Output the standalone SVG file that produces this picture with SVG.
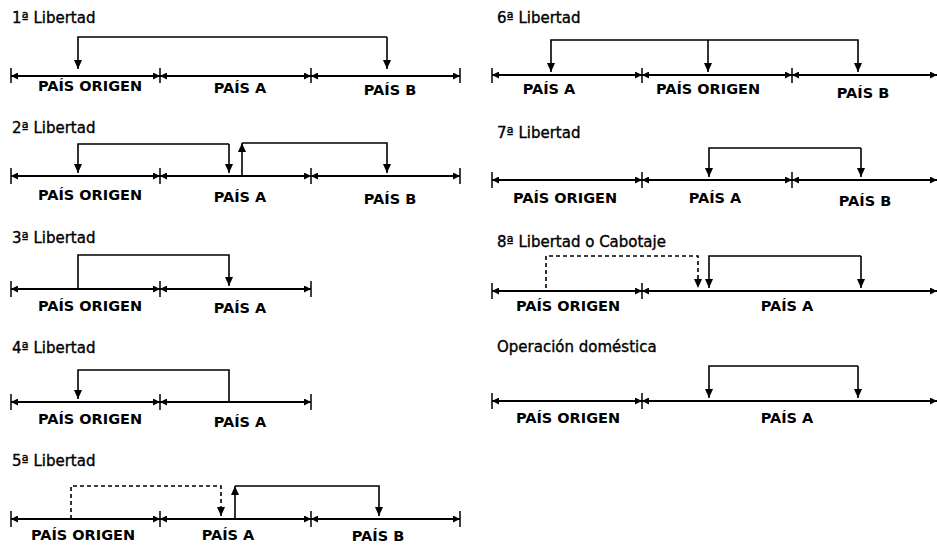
<svg xmlns="http://www.w3.org/2000/svg" width="937" height="545" viewBox="0 0 937 545">
<style>
.t{font-family:"DejaVu Sans",Verdana,sans-serif;font-size:15px;fill:#000;stroke:#000;stroke-width:0.35}
.l{font-family:"DejaVu Sans",Verdana,sans-serif;font-size:14.5px;font-weight:bold;fill:#000;text-anchor:middle}
.ax{stroke:#000;stroke-width:2;fill:none;marker-start:url(#dim);marker-end:url(#dim)}
.tk{stroke:#000;stroke-width:1.5}
.c{stroke:#000;stroke-width:1.6;fill:none}
.a{marker-end:url(#arr)}
.d{stroke-dasharray:4 3}
</style>
<defs>
<marker id="dim" markerUnits="userSpaceOnUse" viewBox="0 -3.5 7 7" refX="7" refY="0" markerWidth="7" markerHeight="7" orient="auto-start-reverse"><path d="M0,-3.5 L7,0 L0,3.5 z" fill="#000"/></marker>
<marker id="arr" markerUnits="userSpaceOnUse" viewBox="0 -4 9 8" refX="9" refY="0" markerWidth="9" markerHeight="8" orient="auto"><path d="M0,-4 L9,0 L0,4 z" fill="#000"/></marker>
</defs>

<g id="p1">
<text class="t" x="12" y="23">1ª Libertad</text>
<line class="tk" x1="11" y1="68" x2="11" y2="83"/><line class="tk" x1="160" y1="68" x2="160" y2="83"/><line class="tk" x1="311" y1="68" x2="311" y2="83"/><line class="tk" x1="460" y1="68" x2="460" y2="83"/>
<line class="ax" x1="11" y1="76" x2="160" y2="76"/><line class="ax" x1="160" y1="76" x2="311" y2="76"/><line class="ax" x1="311" y1="76" x2="460" y2="76"/>
<text class="l" x="90" y="91">PAÍS ORIGEN</text><text class="l" x="240" y="93">PAÍS A</text><text class="l" x="390" y="95">PAÍS B</text>
</g>
<g id="p2">
<text class="t" x="12" y="133">2ª Libertad</text>
<line class="tk" x1="11" y1="168" x2="11" y2="184"/><line class="tk" x1="160" y1="168" x2="160" y2="184"/><line class="tk" x1="311" y1="168" x2="311" y2="184"/><line class="tk" x1="460" y1="168" x2="460" y2="184"/>
<line class="ax" x1="11" y1="176" x2="160" y2="176"/><line class="ax" x1="160" y1="176" x2="311" y2="176"/><line class="ax" x1="311" y1="176" x2="460" y2="176"/>
<text class="l" x="90" y="200">PAÍS ORIGEN</text><text class="l" x="240" y="202">PAÍS A</text><text class="l" x="390" y="204">PAÍS B</text>
</g>
<g id="p3">
<text class="t" x="12" y="243">3ª Libertad</text>
<line class="tk" x1="11" y1="281" x2="11" y2="297"/><line class="tk" x1="160" y1="281" x2="160" y2="297"/><line class="tk" x1="311" y1="281" x2="311" y2="297"/>
<line class="ax" x1="11" y1="289" x2="160" y2="289"/><line class="ax" x1="160" y1="289" x2="311" y2="289"/>
<text class="l" x="90" y="311">PAÍS ORIGEN</text><text class="l" x="240" y="313">PAÍS A</text>
</g>
<g id="p4">
<text class="t" x="12" y="353">4ª Libertad</text>
<line class="tk" x1="11" y1="394" x2="11" y2="410"/><line class="tk" x1="160" y1="394" x2="160" y2="410"/><line class="tk" x1="311" y1="394" x2="311" y2="410"/>
<line class="ax" x1="11" y1="402" x2="160" y2="402"/><line class="ax" x1="160" y1="402" x2="311" y2="402"/>
<text class="l" x="90" y="424">PAÍS ORIGEN</text><text class="l" x="240" y="427">PAÍS A</text>
</g>
<g id="p5">
<text class="t" x="12" y="466">5ª Libertad</text>
<line class="tk" x1="11" y1="511" x2="11" y2="527"/><line class="tk" x1="160" y1="511" x2="160" y2="527"/><line class="tk" x1="311" y1="511" x2="311" y2="527"/><line class="tk" x1="460" y1="511" x2="460" y2="527"/>
<line class="ax" x1="11" y1="519" x2="160" y2="519"/><line class="ax" x1="160" y1="519" x2="311" y2="519"/><line class="ax" x1="311" y1="519" x2="460" y2="519"/>
<text class="l" x="83" y="540">PAÍS ORIGEN</text><text class="l" x="228" y="540">PAÍS A</text><text class="l" x="378" y="541">PAÍS B</text>
</g>
<g id="p6">
<text class="t" x="497" y="23">6ª Libertad</text>
<line class="tk" x1="492" y1="68" x2="492" y2="83"/><line class="tk" x1="642" y1="68" x2="642" y2="83"/><line class="tk" x1="792" y1="68" x2="792" y2="83"/>
<line class="ax" x1="492" y1="75" x2="642" y2="75"/><line class="ax" x1="642" y1="75" x2="792" y2="75"/><line class="ax" x1="792" y1="75" x2="937" y2="75"/>
<text class="l" x="549" y="94">PAÍS A</text><text class="l" x="708" y="94">PAÍS ORIGEN</text><text class="l" x="863" y="98">PAÍS B</text>
</g>
<g id="p7">
<text class="t" x="497" y="138">7ª Libertad</text>
<line class="tk" x1="492" y1="172" x2="492" y2="188"/><line class="tk" x1="642" y1="172" x2="642" y2="188"/><line class="tk" x1="792" y1="172" x2="792" y2="188"/>
<line class="ax" x1="492" y1="180" x2="642" y2="180"/><line class="ax" x1="642" y1="180" x2="792" y2="180"/><line class="ax" x1="792" y1="180" x2="937" y2="180"/>
<text class="l" x="565" y="203">PAÍS ORIGEN</text><text class="l" x="715" y="203">PAÍS A</text><text class="l" x="865" y="206">PAÍS B</text>
</g>
<g id="p8">
<text class="t" x="497" y="247">8ª Libertad o Cabotaje</text>
<line class="tk" x1="492" y1="283" x2="492" y2="299"/><line class="tk" x1="642" y1="283" x2="642" y2="299"/>
<line class="ax" x1="492" y1="291" x2="642" y2="291"/><line class="ax" x1="642" y1="291" x2="937" y2="291"/>
<text class="l" x="568" y="311">PAÍS ORIGEN</text><text class="l" x="787" y="311">PAÍS A</text>
</g>
<g id="p9">
<text class="t" x="497" y="352">Operación doméstica</text>
<line class="tk" x1="492" y1="393" x2="492" y2="409"/><line class="tk" x1="642" y1="393" x2="642" y2="409"/>
<line class="ax" x1="492" y1="401" x2="642" y2="401"/><line class="ax" x1="642" y1="401" x2="937" y2="401"/>
<text class="l" x="568" y="423">PAÍS ORIGEN</text><text class="l" x="787" y="423">PAÍS A</text>
</g>

<g id="connectors">
<polyline class="c a" points="387,37 78,37 78,69"/>
<line class="c a" x1="387" y1="37" x2="387" y2="69"/>

<polyline class="c a" points="229,144 78,144 78,173"/>
<line class="c a" x1="229" y1="144" x2="229" y2="173"/>
<line class="c a" x1="242" y1="176" x2="242" y2="143"/>
<polyline class="c a" points="242,143 387,143 387,173"/>

<polyline class="c a" points="78,289 78,255 229,255 229,286"/>

<polyline class="c a" points="229,402 229,370 78,370 78,399"/>

<polyline class="c d a" points="71,519 71,486 221,486 221,516"/>
<line class="c a" x1="235" y1="519" x2="235" y2="486"/>
<polyline class="c a" points="235,486 379,486 379,516"/>

<polyline class="c a" points="708,40 551,40 551,72"/>
<line class="c a" x1="708" y1="40" x2="708" y2="72"/>
<polyline class="c a" points="708,40 858,40 858,72"/>

<polyline class="c a" points="861,148 709,148 709,177"/>
<line class="c a" x1="861" y1="148" x2="861" y2="177"/>

<polyline class="c d a" points="546,288 546,256 698,256 698,288"/>
<polyline class="c a" points="861,256 709,256 709,288"/>
<line class="c a" x1="861" y1="256" x2="861" y2="288"/>

<polyline class="c a" points="858,366 709,366 709,398"/>
<line class="c a" x1="858" y1="366" x2="858" y2="398"/>
</g>
</svg>
